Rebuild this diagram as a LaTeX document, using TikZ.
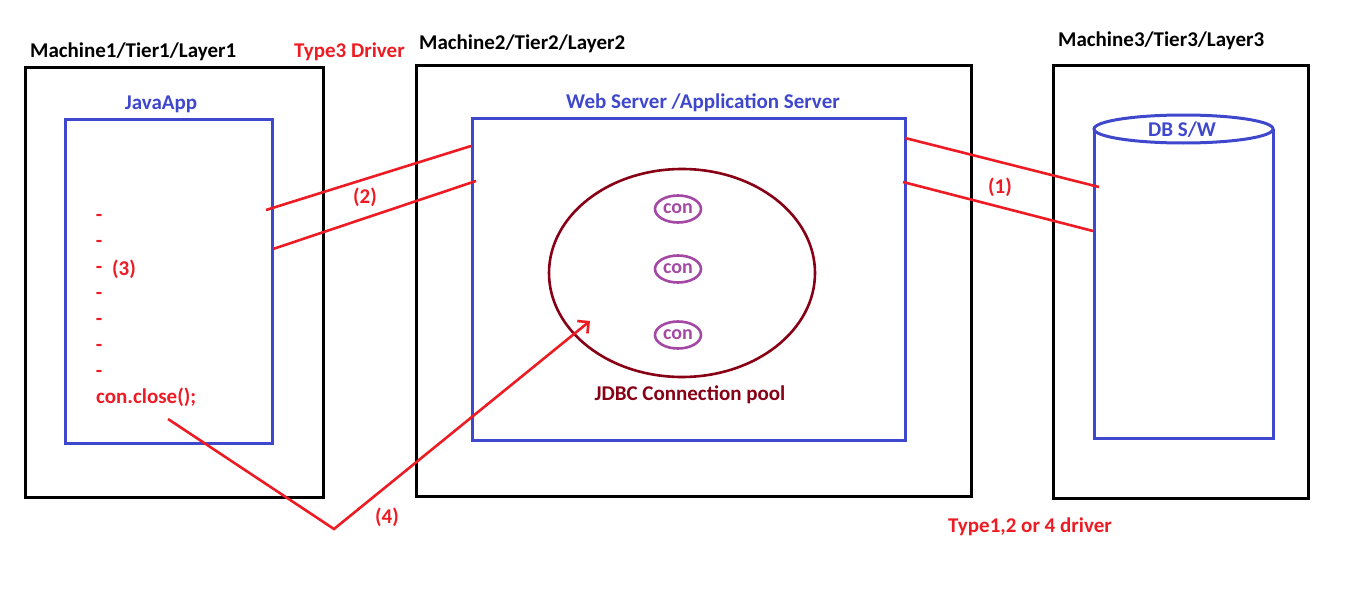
\documentclass[tikz,border=0pt]{standalone}
\usepackage{fontspec}
\setmainfont{Carlito}
\usetikzlibrary{arrows.meta,positioning,shapes.geometric}
\definecolor{pblue}{HTML}{3F48CC}
\definecolor{pred}{HTML}{ED1C24}
\definecolor{pmaroon}{HTML}{880015}
\definecolor{ppurple}{HTML}{A349A4}
\tikzset{
  mbox/.style={draw=black,line width=3pt,inner sep=0pt},
  bbox/.style={draw=pblue,line width=3pt,inner sep=0pt},
  lbl/.style={font=\fontsize{21}{25}\selectfont\bfseries,inner sep=0pt},
  rtxt/.style={lbl,text=pred},
  btxt/.style={lbl,text=pblue},
  rline/.style={pred,line width=2.6pt},
  conn/.style={ellipse,draw=ppurple,line width=2.6pt,inner sep=0pt,minimum width=46,minimum height=27,
    text=ppurple,font=\fontsize{20}{24}\selectfont\bfseries}
}
\begin{document}
\begin{tikzpicture}[x=1pt,y=-1pt]
\useasboundingbox (0,0) rectangle (1360,594);
% machines
\node[mbox,minimum width=298,minimum height=429] (mone) at (174,282.5) {};
\node[mbox,minimum width=555,minimum height=430] (mtwo) at (693.5,281) {};
\node[mbox,minimum width=255,minimum height=432] (mthree) at (1180.5,282) {};
\node[lbl,anchor=base west] (lone) at (30,58) {Machine1/Tier1/Layer1};
\node[lbl,anchor=base west] (ltwo) at (419,50) {Machine2/Tier2/Layer2};
\node[lbl,anchor=base west] (lthree) at (1058,47) {Machine3/Tier3/Layer3};
\node[rtxt,anchor=base west] (tthree) at (294,58) {Type3 Driver};
\node[rtxt,anchor=base] (tother) at (1030,532) {Type1,2 or 4 driver};
% java app
\node[bbox,minimum width=207,minimum height=324] (java) at (168.5,281) {};
\node[btxt,anchor=base] (javalbl) at (161,110) {JavaApp};
\foreach \k in {1,...,7}
  \node[rtxt,anchor=base] (dash\k) at (99,{221+26*(\k-1)}) {-};
\node[rtxt,anchor=base] (three) at (124,275) {(3)};
\node[rtxt,anchor=base west] (close) at (96,403) {con.close();};
% web server
\node[bbox,minimum width=433,minimum height=322] (web) at (688.5,279) {};
\node[btxt,anchor=base] (weblbl) at (703,108) {Web Server /Application Server};
\node[ellipse,draw=pmaroon,line width=2.6pt,minimum width=266,minimum height=208] (pool) at (682,273) {};
\node[conn] (cone) at (678,209) {con};
\node[conn] (ctwo) at (678,269) {con};
\node[conn] (cthree) at (678,335) {con};
\node[lbl,text=pmaroon,anchor=base] (poollbl) at (690,400) {JDBC Connection pool};
% database
\draw[pblue,line width=3pt] (1094,129) -- (1094,438) -- (1273,438) -- (1273,129);
\draw[pblue,line width=3pt,fill=white] (1183.5,129) ellipse [x radius=89.5,y radius=14];
\node[btxt,anchor=base] (db) at (1182,136) {DB S/W};
% links
\coordinate (jone) at (266,210);
\coordinate (jtwo) at (273,249);
\coordinate (wone) at (471,146);
\coordinate (wtwo) at (476,181);
\coordinate (sone) at (905,138);
\coordinate (stwo) at (903,182);
\coordinate (done) at (1099,187);
\coordinate (dtwo) at (1093,231);
\draw[rline] (jone) -- (wone);
\draw[rline] (jtwo) -- (wtwo);
\draw[rline] (sone) -- (done);
\draw[rline] (stwo) -- (dtwo);
\node[rtxt,anchor=base] (ltwoa) at (365,203) {(2)};
\node[rtxt,anchor=base] (lonea) at (1000,193) {(1)};
\coordinate (cstart) at (168,419);
\coordinate (vtx) at (334,529);
\coordinate (tip) at (590,321);
\draw[rline,-{Straight Barb[length=8pt,width=16pt]}] (cstart) -- (vtx) -- (tip);
\node[rtxt,anchor=base] (lfour) at (387,523) {(4)};
\end{tikzpicture}
\end{document}
